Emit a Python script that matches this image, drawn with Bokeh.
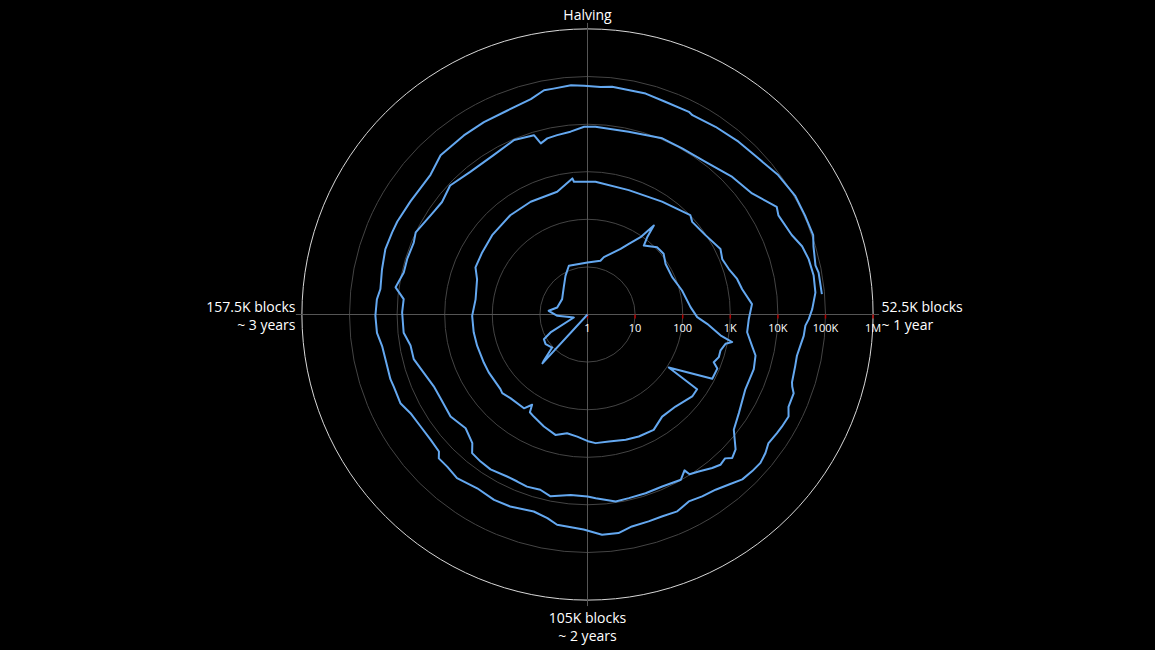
import numpy as np
from bokeh.plotting import figure
from bokeh.models import Range1d
from bokeh.core.properties import value
from bokeh.embed import file_html
from bokeh.resources import INLINE

# ---------------- data (block height, BTC price in USD) ----------------
CYCLE = 210000
blocks = [
    128000, 129900, 130300, 132400, 136900, 140300, 142400, 150300, 156000, 160700,
    165100, 175700, 185900, 192700, 197800, 210000,
    217900, 219300, 225600, 227700, 230100, 231400, 232000, 232900, 236800, 240000,
    243300, 248600, 254200, 260100, 263300, 265100, 267700, 268800, 269500, 271300,
    273000, 274600, 275700, 278400, 281800, 282500, 284700, 289500, 293900, 297600,
    301700, 305100, 309400, 312900, 314600, 317800, 320700, 323700, 327400, 331200,
    332800, 333400, 334900, 339900, 342600, 343800, 349800, 353000, 358300, 362300,
    367100, 372000, 377800, 380800, 385300, 390700, 397900, 404400, 411900, 416300,
    416600, 420000,
    422000, 430700, 439500, 446800, 448300, 452700, 457200, 459500, 462100, 464700,
    467100, 470400, 473500, 476200, 478800, 480500, 483100, 487300, 491800, 494800,
    497200, 498600, 499500, 500800, 502200, 504400, 506000, 506400, 507800, 511300,
    514500, 517600, 520000, 523500, 525000, 528100, 531700, 533800, 536300, 538300,
    540400, 543700, 546000, 548200, 549400, 552400, 556100, 560200, 562900, 566100,
    569100, 571700, 574200, 577900, 580300, 582200, 585000, 587500, 590600, 592400,
    597100, 599500, 602700, 607000, 612200, 616700, 620300, 621100, 622500, 624400,
    626900, 629400,
    631400, 637400, 643400, 647300, 652000, 657100, 661300, 665200, 666500, 670100,
    672200, 674300, 676800, 679300, 681700, 683200, 684200, 685800, 687400, 689000,
    690600, 693200, 693800, 694700, 696900, 698200, 700000, 701200, 703200, 704600,
    706200, 707900, 709800, 711800, 713900, 716200, 718400, 720700, 723100, 725400,
    728100, 730300, 732800, 735600, 739800, 741500, 743900, 747800, 750600, 753900,
    757500, 759900, 761800, 762600, 765000, 767800, 770500, 772700, 775600, 776900,
    780200, 782400, 784600, 787300, 789900, 791600, 794700, 797900, 800800, 802700,
    806500, 811800, 815100, 819800, 823500, 827500, 831400, 833600, 835000, 837600,
    839500, 841900,
    843600, 848600, 851700, 855500, 856200, 860000, 864000, 867800, 871400, 875100,
    878200, 881200, 882700, 885400, 886500, 889600,
]
price = [
    1.0, 24.9, 21.8, 10.4, 12.0, 11.3, 7.3, 1.97, 4.3, 6.6,
    4.5, 4.2, 5.7, 8.6, 12.5, 12.4,
    14.5, 17.9, 35, 52.5, 93, 215, 112, 74, 108, 111,
    90, 88, 112, 148, 202, 332, 672, 1240, 920, 785,
    795, 685, 900, 888, 109, 612, 622, 474, 454, 622,
    602, 562, 508, 510, 467, 375, 340, 415, 335, 265,
    242, 168, 240, 245, 273, 257, 254, 252, 257, 263,
    265, 236, 272, 357, 370, 404, 438, 450, 452, 753,
    635, 612,
    620, 566, 695, 1010, 865, 970, 1300, 1150, 1315, 1700,
    1960, 2900, 2450, 2370, 3300, 4300, 4750, 4680, 6240, 8180,
    16200, 19100, 15200, 16400, 14300, 11000, 9600, 7200, 9700, 8700,
    8900, 9000, 9400, 7300, 6680, 6400, 7900, 6500, 6800, 6400,
    6300, 6900, 6600, 6150, 4250, 3180, 3870, 3580, 3670, 4500,
    5870, 5950, 7600, 7850, 7500, 11800, 9100, 9200, 8900, 10000,
    7700, 7300, 9100, 7550, 7700, 9500, 8530, 5320, 6240, 6640,
    7200, 8800,
    8900, 8600, 10500, 10400, 11300, 15700, 19600, 37500, 33000, 40200,
    53800, 61600, 66200, 64600, 52800, 44600, 38300, 36700, 33000, 30500,
    31300, 33600, 36200, 43300, 44400, 54600, 51800, 49700, 46300, 54600,
    61300, 59600, 56500, 44300, 36300, 32900, 29300, 35100, 33200, 34000,
    35400, 43500, 43300, 33000, 29000, 23000, 19500, 22300, 23000, 21100,
    24900, 22300, 22200, 17600, 16500, 16700, 18100, 22400, 22000, 22800,
    22300, 23200, 27500, 28600, 27300, 24200, 26300, 29000, 28300, 28000,
    25900, 26000, 35700, 37300, 39000, 40200, 47600, 62900, 62900, 67100,
    64000, 61600,
    64700, 62900, 57400, 57700, 53900, 59300, 66200, 73000, 91700, 106000,
    105000, 106000, 91000, 79300, 86000, 87600,
]
radial_tick_values = [1, 10, 100, 1000, 10000, 100000, 1000000]
radial_tick_labels = ["1", "10", "100", "1K", "10K", "100K", "1M"]
angular_labels = ["Halving", "52.5K blocks\n~ 1 year", "105K blocks\n~ 2 years", "157.5K blocks\n~ 3 years"]

# ---------------- layout ----------------
PX = 47.6            # pixels per decade
W, H = 1152, 648
CX, CY = 587, 314    # polar centre inside the canvas
RMAX = 6.0

p = figure(width=W, height=H, output_backend="svg", toolbar_location=None,
           x_range=Range1d(-CX / PX, (W - CX) / PX),
           y_range=Range1d(-(H - CY) / PX, CY / PX),
           x_axis_type=None, y_axis_type=None, min_border=0,
           background_fill_color="black", border_fill_color="black",
           outline_line_color=None)
p.grid.visible = False

font = value("Open Sans")

# grid circles
rings = [np.log10(v) for v in radial_tick_values[1:-1]]
p.circle(x=[0] * len(rings), y=[0] * len(rings), radius=rings,
         fill_color=None, line_color="#444444", line_width=1)
p.circle(x=[0], y=[0], radius=[RMAX], fill_color=None,
         line_color="#d8d8d8", line_width=1)

# angular grid lines (with small ticks outside)
L = RMAX + 6 / PX
p.segment(x0=[-L, 0], y0=[0, -L], x1=[L, 0], y1=[0, L],
          line_color="#555555", line_width=1)

# radial axis ticks + labels
tick_r = [np.log10(v) for v in radial_tick_values]
p.segment(x0=tick_r, y0=[0] * len(tick_r), x1=tick_r, y1=[-4 / PX] * len(tick_r),
          line_color="#b00000", line_width=1.5)
p.text(x=tick_r, y=[-13 / PX] * len(tick_r), text=radial_tick_labels,
       text_align="center", text_baseline="middle", text_color="white",
       text_font_size="11px", text_font=font)

# the spiral
b = np.array(blocks, dtype=float)
pr = np.array(price, dtype=float)
theta = (b % CYCLE) / CYCLE * 2 * np.pi
r = np.clip(np.log10(pr), 0, None)
p.line(x=r * np.sin(theta), y=r * np.cos(theta), line_color="#64a8f0",
       line_width=2, line_join="round")

# angular labels (page-pixel positions converted to data units)
def dx(px):
    return (px - CX) / PX

def dy(py):
    return (CY - py) / PX

p.text(x=[0], y=[dy(14)], text=[angular_labels[0]], text_align="center",
       text_baseline="middle", text_color="white", text_font_size="14px", text_font=font)

r1 = angular_labels[1].split("\n")
p.text(x=[dx(881)] * 2, y=[dy(306), dy(324)], text=r1,
       text_align="left", text_baseline="middle", text_color="white",
       text_font_size="14px", text_font=font)

r2 = angular_labels[2].split("\n")
p.text(x=[0, 0], y=[dy(617), dy(635)], text=r2,
       text_align="center", text_baseline="middle", text_color="white",
       text_font_size="14px", text_font=font)

r3 = angular_labels[3].split("\n")
p.text(x=[dx(295)] * 2, y=[dy(306), dy(324)], text=r3,
       text_align="right", text_baseline="middle", text_color="white",
       text_font_size="14px", text_font=font)

html = file_html(p, INLINE)
html = html.replace("<head>", "<head><style>html,body{background:#000000;margin:0;padding:0;overflow:hidden;}</style>", 1)
open("out.html", "w").write(html)
